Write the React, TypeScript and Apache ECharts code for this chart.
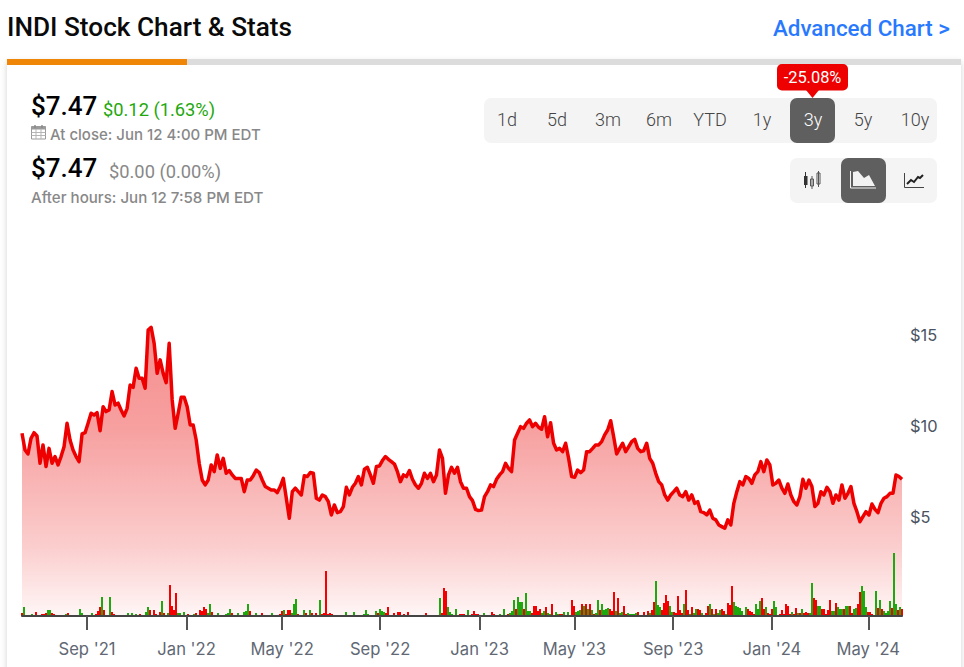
import React, { useEffect, useRef } from "react";
import * as echarts from "echarts";

const startTime = Date.UTC(2021, 5, 12);
const endTime = Date.UTC(2024, 5, 12);

const prices = [
  9.6, 8.68, 8.46, 9.32, 9.63, 9.45, 7.95, 8.96, 7.77, 8.77, 7.95, 8.32, 7.86, 8.32, 8.86, 10.15, 9.23, 8.68, 8.32, 8.04,
  9.56, 9.63, 10.15, 10.7, 10.6, 10.73, 9.74, 11.06, 10.79, 10.88, 11.89, 11.15, 11.25, 10.88, 10.55, 10.97, 12.25, 12.12, 13.17, 12.62,
  12.62, 12.07, 15.27, 15.42, 14.54, 12.89, 13.63, 12.89, 12.38, 14.54, 11.43, 9.87, 10.7, 11.58, 11.58, 11.06, 10.05, 10.05, 9.23, 7.95,
  7.03, 6.76, 7.03, 7.86, 7.49, 8.41, 7.67, 8.22, 7.4, 7.55, 7.31, 7.12, 7.12, 7.12, 6.39, 7.03, 7.03, 7.27, 7.58, 7.44,
  7.03, 6.67, 6.58, 6.48, 6.48, 6.34, 6.67, 7.12, 6.03, 4.93, 6.39, 6.58, 6.39, 6.21, 7.27, 7.22, 7.44, 7.4, 6.03, 5.93,
  6.21, 6.12, 5.84, 5.11, 5.66, 5.24, 5.29, 5.57, 6.63, 6.21, 6.63, 6.85, 7.22, 6.76, 7.62, 7.73, 7.31, 6.85, 7.77, 7.8,
  8.1, 8.32, 8.17, 8.04, 7.91, 7.49, 6.94, 7.31, 7.22, 7.55, 7.07, 6.76, 6.58, 6.85, 7.4, 7.12, 7.4, 6.94, 7.31, 8.68,
  8.22, 6.3, 7.31, 7.73, 7.4, 7.73, 6.94, 6.58, 6.58, 6.12, 5.9, 5.42, 5.35, 5.38, 6.12, 6.39, 6.76, 6.67, 7.07, 7.31,
  7.49, 7.95, 7.67, 7.49, 9.23, 9.6, 9.96, 9.87, 10.15, 10.33, 9.96, 10.15, 9.93, 9.82, 10.51, 9.41, 10.18, 9.05, 8.68, 8.77,
  8.59, 9.05, 8.22, 7.22, 7.18, 7.58, 7.44, 7.58, 8.59, 8.59, 8.77, 8.96, 8.96, 9.14, 9.51, 9.78, 10.29, 9.41, 8.46, 8.77,
  9.05, 8.59, 8.86, 9.14, 9.27, 8.77, 8.59, 8.64, 9.05, 8.22, 7.95, 7.4, 6.94, 6.76, 6.21, 5.93, 6.21, 6.39, 6.58, 6.21,
  6.12, 6.39, 5.93, 6.21, 5.75, 5.84, 5.29, 5.24, 5.11, 5.38, 4.93, 4.84, 4.56, 4.47, 4.38, 4.84, 4.56, 5.75, 6.39, 6.94,
  6.76, 7.22, 7.12, 6.85, 7.31, 7.49, 8.04, 7.49, 8.13, 7.86, 6.76, 6.85, 7.03, 6.58, 6.3, 6.81, 6.21, 5.84, 5.66, 6.12,
  7.07, 6.58, 7.03, 6.67, 5.57, 5.75, 6.39, 6.21, 6.63, 6.39, 5.75, 6.21, 5.93, 6.76, 6.03, 6.3, 6.67, 5.75, 5.29, 4.74,
  5.02, 5.29, 5.11, 5.71, 5.42, 5.24, 5.75, 6.03, 6.12, 6.3, 6.3, 7.31, 7.22, 7.07,
];

// Relative volume; positive = up day (green), negative = down day (red).
const volumes = [
  -3, 9, 1, 1, -1, 2, 1, -4, 1, -1, -2, -2, -3, 6, 6, -3, -2, 1, 1, -1, 1, 1, 2, -3, -1, 1, -1, 1, -1, 7,
  3, -1, 1, 1, 1, 3, -1, -2, -5, -9, 19, -6, -1, -1, 19, -4, -2, 0, 0, 0, 0, 0, 0, 3, 1, 3, 1, 2, -1, -2,
  -1, -1, 4, 9, -6, 1, -6, -2, 1, -4, 15, -3, 1, 3, -31, -10, -6, -23, 3, 3, -1, 4, 1, -2, -1, 1, 2, -3, 1, -6,
  -5, -9, -7, 3, 12, -4, 1, 1, 3, 1, 1, -1, 2, 3, 7, -3, -1, -1, 3, -1, 1, 4, 5, 12, -5, 1, 1, 3, 1, -1,
  -3, 1, -1, 1, -1, 3, -1, -1, -1, -2, -5, 6, -2, -6, -6, 3, 12, 17, -2, -1, -1, 6, -3, 1, 6, -3, -1, -3, -1,
  16, -2, -3, -45, -2, -3, -2, -1, 1, -1, -1, 1, -1, 4, 1, 1, 1, 4, 1, 1, -1, -1, 2, 6, 2, -1, -1, 1, 5, -3,
  7, 5, 4, -3, -9, -1, 1, -3, 1, -4, -4, 1, -2, 1, -4, -1, -1, -1, -1, -1, 0, 0, 1, -3, -1, 1, 1, -1, -1, -1,
  18, -3, -28, -25, 9, 4, 2, -1, 7, -1, -2, -2, -2, -1, 6, 1, -2, -5, -2, -2, 1, 1, 3, 1, -1, 1, -4, -2, 1, 1,
  2, -1, 7, -1, -2, 3, 5, 16, -7, 19, 14, 14, -7, 23, 5, 5, -3, -10, -10, -5, -7, 3, 5, -9, 3, 2, -12, 1, 4, 2,
  -2, -2, 4, 1, 4, -1, -16, -10, 4, 5, 6, -12, 10, -12, 7, -12, 6, -2, 3, 16, -6, 12, 6, 7, 8, -7, -5, -24, 5, -18,
  3, 4, -10, -2, 3, 2, 2, 2, 3, -4,
  1, 1, -4, 1, -5, 3, -6, -14, 35, 11, 9, -6, -13, -21, -15, 10, 4, -4, -3, -20, -6, -3, 12, -26, -6, 2, -9, 3, 7, -7,
  -6, 3, 1, -3, -10, 12, -7, 2, -7, 3, 6, -7, -5, 2, -13, -11, -30, 14, 10, 9, 8, 5, 1, 9, -7, -5, -4, -2, 12, 7,
  15, -18, -7, 9, -3, -2, -7, 15, 9, 1, -2, -6, -2, -12, -10, -2, 4, -2, -8, 3, -3, 7, -3, -4, -3, 3, 33, -18, -16, 10,
  10, -7, -7, -2, -6, -16, 5, 5, -13, 9, 7, 7, -7, 10, 10, -10, -3, 7, 8, -12, -24, 30, 25, 9, -4, -4, -2, -1, 25, -8,
  16, -7, 5, 3, 5, 15, -8, 63, 12, -6, 9, -7,
];

const tickTimes = [
  Date.UTC(2021, 8, 1), Date.UTC(2022, 0, 3), Date.UTC(2022, 4, 2), Date.UTC(2022, 8, 1), Date.UTC(2023, 0, 3),
  Date.UTC(2023, 4, 1), Date.UTC(2023, 8, 1), Date.UTC(2024, 0, 2), Date.UTC(2024, 4, 1),
];
const tickLabels = ["Sep '21", "Jan '22", "May '22", "Sep '22", "Jan '23", "May '23", "Sep '23", "Jan '24", "May '24"];
const priceTicks = [5, 10, 15];
const rangeButtons = ["1d", "5d", "3m", "6m", "YTD", "1y", "3y", "5y", "10y"];

const RED = "#ee0000";
const GREEN = "#1fa80e";
const UI = "Roboto, sans-serif";
const SUB = "Inter, sans-serif";

function txt(text: string, x: number, y: number, fontSize: number, fill: string, extra: any = {}) {
  return {
    type: "text",
    silent: true,
    z: 20,
    style: { text, x, y, fontSize, fill, fontFamily: UI, textVerticalAlign: "middle", ...extra },
  };
}
function box(x: number, y: number, width: number, height: number, fill: string, r = 0, extra: any = {}) {
  return { type: "rect", silent: true, z: 10, shape: { x, y, width, height, r }, style: { fill, ...extra } };
}
function line(x1: number, y1: number, x2: number, y2: number, stroke: string, lineWidth = 1) {
  return { type: "line", silent: true, z: 15, shape: { x1, y1, x2, y2 }, style: { stroke, lineWidth } };
}

function buildGraphics() {
  const btnCenters = [507, 557, 608, 659, 710, 762, 813, 863, 915];
  const cal: any[] = [box(31.5, 126.5, 14, 12.5, "#ffffff", 0, { stroke: "#9a9a9a", lineWidth: 1 }), box(31.5, 126.5, 14, 3, "#9a9a9a")];
  for (const x of [36, 41]) cal.push(line(x, 129, x, 139, "#b5b5b5", 1));
  for (const y of [132.5, 135.5]) cal.push(line(31.5, y, 45.5, y, "#b5b5b5", 1));
  cal.push(line(35, 125, 35, 128, "#888", 1.4), line(42, 125, 42, 128, "#888", 1.4));
  return [
    { ...box(7, 62, 954, 620, "#ffffff", 0, { shadowBlur: 6, shadowColor: "rgba(0,0,0,0.18)" }), z: -10 },
    box(7, 59, 954, 6, "#dcdcdc"),
    box(7, 59, 180, 6, "#ef8608"),
    txt("INDI Stock Chart & Stats", 7, 27, 26.2, "#0a0a0a", { fontWeight: 500 }),
    txt("Advanced Chart >", 950, 28, 22.4, "#2979ff", { fontWeight: 500, textAlign: "right" }),
    txt("$7.47", 31, 106, 26, "#000000", { fontWeight: 500 }),
    txt("$0.12 (1.63%)", 103, 109.5, 18.3, GREEN, {}),
    ...cal,
    txt("At close: Jun 12 4:00 PM EDT", 50, 134, 15, "#888888", { fontFamily: SUB, fontWeight: 500 }),
    txt("$7.47", 31, 168, 26, "#000000", { fontWeight: 500 }),
    txt("$0.00 (0.00%)", 109, 171.5, 18.3, "#888888", {}),
    txt("After hours: Jun 12 7:58 PM EDT", 31, 197, 15.1, "#888888", { fontFamily: SUB, fontWeight: 500 }),

    box(484, 98, 453, 45, "#f4f4f4", 7),
    box(790, 98, 45, 45, "#5f5f5f", 7),
    ...rangeButtons.map((b, i) =>
      txt(b, btnCenters[i], 119.5, 18, b === "3y" ? "#ffffff" : "#444444", { textAlign: "center", fontWeight: 300 })
    ),
    box(777, 64, 71, 26.5, RED, 5),
    { type: "polygon", silent: true, z: 10, shape: { points: [[806, 90], [819, 90], [812.5, 98]] }, style: { fill: RED } },
    txt("-25.08%", 812.5, 77, 16.4, "#ffffff", { textAlign: "center" }),

    box(790, 158, 147, 45, "#f4f4f4", 7),
    box(841, 158, 45, 45, "#5f5f5f", 7),
    // candlestick icon
    line(805.5, 172, 805.5, 188, "#333", 1),
    box(804, 176, 3.5, 9, "#333"),
    line(812, 176, 812, 189, "#555", 1),
    box(810.5, 179, 3, 7, "#ffffff", 0, { stroke: "#555", lineWidth: 1 }),
    line(818.5, 171, 818.5, 187, "#555", 1),
    box(817, 173, 3, 11, "#ffffff", 0, { stroke: "#555", lineWidth: 1 }),
    // area icon
    { type: "polyline", silent: true, z: 15, shape: { points: [[850.5, 171], [850.5, 188], [876, 188]] }, style: { stroke: "#f2f2f2", lineWidth: 1, fill: "none" } },
    { type: "polygon", silent: true, z: 15, shape: { points: [[853, 186], [853, 172], [858, 171], [864, 178], [869, 175], [875, 186]] }, style: { fill: "#f2f2f2" } },
    // line icon
    { type: "polyline", silent: true, z: 15, shape: { points: [[904.5, 173], [904.5, 187.5], [924, 187.5]] }, style: { stroke: "#444", lineWidth: 1, fill: "none" } },
    { type: "polyline", silent: true, z: 15, shape: { points: [[907, 184], [911, 180], [914, 182], [918, 177], [920, 178], [923, 175]] }, style: { stroke: "#222", lineWidth: 2, fill: "none" } },
  ];
}

export default function App() {
  const ref = useRef<HTMLDivElement>(null);
  useEffect(() => {
    document.body.style.margin = "0";
    const chart = echarts.init(ref.current!, undefined, { renderer: "svg" });
    const priceStep = (endTime - startTime) / (prices.length - 1);
    const volStep = (endTime - startTime) / (volumes.length - 1);
    const priceData = prices.map((p, i) => [startTime + i * priceStep, p]);
    const volData = volumes.map((v, i) => ({
      value: [startTime + i * volStep, Math.abs(v)],
      itemStyle: { color: v >= 0 ? GREEN : "#f50000" },
    }));
    chart.setOption({
      animation: false,
      graphic: { elements: buildGraphics() },
      grid: { left: 22, right: 62, top: 300, bottom: 51, containLabel: false },
      xAxis: {
        type: "value",
        min: startTime,
        max: endTime,
        z: 6,
        axisLine: { show: true, onZero: false, lineStyle: { color: "#444444", width: 2 } },
        axisTick: { show: true, customValues: tickTimes, length: 14, lineStyle: { color: "#555555", width: 2 } },
        axisLabel: {
          show: true,
          customValues: tickTimes,
          margin: 24,
          fontSize: 16.6,
          fontFamily: SUB,
          color: "#5f6873",
          formatter: (v: number) => {
            const i = tickTimes.indexOf(v);
            return i >= 0 ? tickLabels[i] : "";
          },
        },
        splitLine: { show: false },
      },
      yAxis: [
        {
          type: "value",
          position: "right",
          min: -0.44,
          max: 16.92,
          axisLine: { show: false },
          axisTick: { show: false },
          splitLine: { show: false },
          axisLabel: {
            customValues: priceTicks,
            margin: 8,
            fontSize: 16.4,
            fontFamily: SUB,
            color: "#4a5361",
            formatter: (v: number) => "$" + v,
          },
        },
        { type: "value", show: false, min: 0, max: 316, splitLine: { show: false } },
      ],
      series: [
        {
          type: "line",
          data: priceData,
          yAxisIndex: 0,
          showSymbol: false,
          symbol: "none",
          smooth: false,
          z: 3,
          lineStyle: { color: RED, width: 3.5, join: "round" },
          areaStyle: {
            origin: "start",
            color: new echarts.graphic.LinearGradient(0, 0, 0, 1, [
              { offset: 0, color: "#f68d8d" },
              { offset: 0.35, color: "#f7a0a0" },
              { offset: 0.75, color: "#fbcccc" },
              { offset: 1, color: "#fff6f6" },
            ]),
            opacity: 1,
          },
        },
        { type: "bar", data: volData, yAxisIndex: 1, barWidth: 2, z: 4 },
      ],
    });
    return () => chart.dispose();
  }, []);
  return <div ref={ref} style={{ width: 964, height: 667 }} />;
}
